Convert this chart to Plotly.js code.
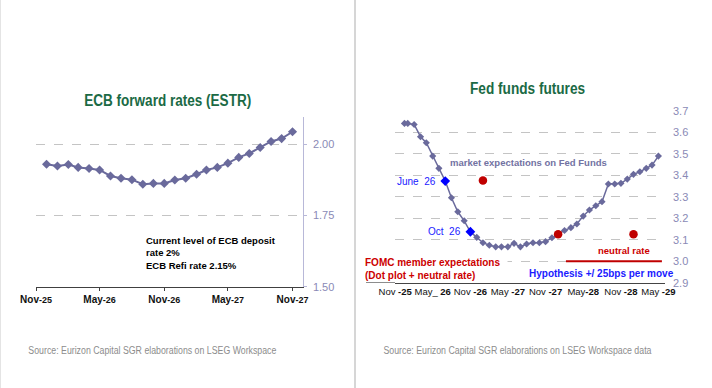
<!DOCTYPE html>
<html>
<head>
<meta charset="utf-8">
<script src="https://cdn.plot.ly/plotly-3.0.1.min.js"></script>
<style>
  html, body { margin: 0; padding: 0; background: #ffffff; }
  #chart { width: 712px; height: 388px; }
</style>
</head>
<body>
<div id="chart"></div>
<script>
// ---------- ECB forward rates (ESTR) ----------
const ecbDates = [
  '2025-12-01','2026-01-01','2026-02-01','2026-03-01','2026-04-01','2026-05-01',
  '2026-06-01','2026-07-01','2026-08-01','2026-09-01','2026-10-01','2026-11-01',
  '2026-12-01','2027-01-01','2027-02-01','2027-03-01','2027-04-01','2027-05-01',
  '2027-06-01','2027-07-01','2027-08-01','2027-09-01','2027-10-01','2027-11-01'
];
const ecbRates = [
  1.929, 1.923, 1.928, 1.918, 1.914, 1.909,
  1.888, 1.880, 1.875, 1.859, 1.862, 1.862,
  1.874, 1.880, 1.894, 1.909, 1.918, 1.933,
  1.953, 1.967, 1.988, 2.009, 2.019, 2.043
];
const ecbTickVals = ['2025-11-01','2026-05-01','2026-11-01','2027-05-01','2027-11-01'];
const ecbTickText = [
  '<b>Nov<span style="font-size:9px">-25</span></b>',
  '<b>May<span style="font-size:9px">-26</span></b>',
  '<b>Nov<span style="font-size:9px">-26</span></b>',
  '<b>May<span style="font-size:9px">-27</span></b>',
  '<b>Nov<span style="font-size:9px">-27</span></b>'
];
const ecbYTicks = [1.50, 1.75, 2.00];

// ---------- Fed funds futures ----------
const fedDates = [
  '2025-11-15','2025-12-01',
  '2026-01-01','2026-02-01','2026-03-01','2026-04-01','2026-05-01','2026-06-01',
  '2026-07-01','2026-08-01','2026-09-01','2026-10-01','2026-11-01','2026-12-01',
  '2027-01-01','2027-02-01','2027-03-01','2027-04-01','2027-05-01','2027-06-01',
  '2027-07-01','2027-08-01','2027-09-01','2027-10-01','2027-11-01','2027-12-01',
  '2028-01-01','2028-02-01','2028-03-01','2028-04-01','2028-05-01','2028-06-01',
  '2028-07-01','2028-08-01','2028-09-01','2028-10-01','2028-11-01','2028-12-01',
  '2029-01-01','2029-02-01','2029-03-01','2029-04-01'
];
const fedRates = [
  3.641, 3.641,
  3.636, 3.579, 3.551, 3.489, 3.432, 3.373,
  3.295, 3.230, 3.188, 3.137, 3.111, 3.086,
  3.074, 3.067, 3.067, 3.067, 3.083, 3.067,
  3.080, 3.086, 3.086, 3.091, 3.109, 3.126,
  3.143, 3.156, 3.173, 3.210, 3.238, 3.258,
  3.277, 3.359, 3.359, 3.362, 3.382, 3.404,
  3.416, 3.432, 3.447, 3.489
];
const highlightDates = ['2026-06-01', '2026-10-01'];
const highlightRates = highlightDates.map(d => fedRates[fedDates.indexOf(d)]);
const fomcDates = ['2026-12-01', '2027-12-01', '2028-12-01'];
const fomcRates = [3.375, 3.125, 3.125];
const neutralDates = ['2028-01-08', '2029-04-18'];
const neutralRates = [3.0, 3.0];
const fedTickVals = ['2025-10-01','2026-04-01','2026-10-01','2027-04-01','2027-10-01','2028-04-01','2028-10-01','2029-04-01'];
const fedTickText = [
  'Nov <b>-25</b>', 'May_ <b>26</b>', 'Nov <b>-26</b>', 'May <b>-27</b>',
  'Nov <b>-27</b>', 'May<b>-28</b>', 'Nov <b>-28</b>', 'May <b>-29</b>'
];

// ---------- helpers (pixel -> paper) ----------
const W = 712, H = 388;
const px = x => x / W;
const py = y => 1 - y / H;

const SERIES = '#6a6a9c';
const GREEN = '#1b6a45';
const SANS = 'Liberation Sans, Arial, sans-serif';

// texts that are drawn in a condensed face in the reference: text -> target width (px)
const condensedTexts = {
  'ECB forward rates (ESTR)': 167,
  'Fed funds futures': 115,
  'Source: Eurizon Capital SGR elaborations on LSEG Workspace': 248,
  'Source: Eurizon Capital SGR elaborations on LSEG Workspace data': 268
};

const traces = [
  {
    x: ecbDates, y: ecbRates, xaxis: 'x', yaxis: 'y',
    type: 'scatter', mode: 'lines+markers',
    line: { color: SERIES, width: 2 },
    marker: { symbol: 'diamond', size: 7, color: SERIES },
    hoverinfo: 'skip'
  },
  {
    x: fedDates, y: fedRates, xaxis: 'x2', yaxis: 'y2',
    type: 'scatter', mode: 'lines+markers',
    line: { color: SERIES, width: 1.5 },
    marker: { symbol: 'diamond', size: 5.5, color: SERIES },
    hoverinfo: 'skip'
  },
  {
    x: highlightDates, y: highlightRates, xaxis: 'x2', yaxis: 'y2',
    type: 'scatter', mode: 'markers',
    marker: { symbol: 'diamond', size: 7.5, color: '#0000ff' },
    hoverinfo: 'skip'
  },
  {
    x: neutralDates, y: neutralRates, xaxis: 'x2', yaxis: 'y2',
    type: 'scatter', mode: 'lines',
    line: { color: '#c00000', width: 2 },
    hoverinfo: 'skip'
  },
  {
    x: fomcDates, y: fomcRates, xaxis: 'x2', yaxis: 'y2',
    type: 'scatter', mode: 'markers',
    marker: { symbol: 'circle', size: 8.5, color: '#c00000' },
    hoverinfo: 'skip'
  }
];

const layout = {
  width: W, height: H,
  margin: { l: 0, r: 0, t: 0, b: 0 },
  paper_bgcolor: '#ffffff', plot_bgcolor: '#ffffff',
  showlegend: false,
  font: { family: SANS, color: '#000000', size: 10 },
  xaxis: {
    domain: [px(36), px(302.7)],
    type: 'date',
    range: ['2025-11-01', '2027-11-30'],
    tickvals: ecbTickVals, ticktext: ecbTickText, tickangle: 0,
    tickfont: { size: 10, color: '#111111' },
    showgrid: false, zeroline: false,
    showline: true, linecolor: '#404040', linewidth: 1,
    ticks: 'outside', ticklen: 3, tickcolor: '#404040',
    anchor: 'y', fixedrange: true
  },
  yaxis: {
    domain: [py(286.7), py(116.7)],
    range: [1.5, 2.0957],
    side: 'right',
    tickvals: ecbYTicks, tickformat: '.2f',
    tickfont: { size: 11, color: '#8a8ab6' },
    showgrid: true, gridcolor: '#c4c4c4', griddash: 'dash', gridwidth: 1,
    zeroline: false,
    showline: true, linecolor: '#b8b8d8', linewidth: 1,
    ticks: 'outside', ticklen: 3, tickcolor: '#b8b8d8',
    ticklabelstandoff: 4,
    anchor: 'x', fixedrange: true
  },
  xaxis2: {
    domain: [px(395), px(665)],
    type: 'date',
    range: ['2025-09-30', '2029-05-03'],
    tickvals: fedTickVals, ticktext: fedTickText, tickangle: 0,
    tickfont: { size: 9.5, color: '#111111' },
    showgrid: false, zeroline: false,
    showline: true, linecolor: '#444444', linewidth: 1,
    ticks: '',
    anchor: 'y2', fixedrange: true
  },
  yaxis2: {
    domain: [py(282.7), py(110.7)],
    range: [2.9, 3.7],
    side: 'right',
    dtick: 0.1, tick0: 2.9, tickformat: '.1f',
    tickfont: { size: 11, color: '#8a8ab6' },
    showgrid: true, gridcolor: '#c4c4c4', griddash: 'dash', gridwidth: 1,
    zeroline: false, showline: false,
    ticks: '', ticklabelstandoff: 7,
    anchor: 'x2', fixedrange: true
  },
  shapes: [
    { type: 'line', xref: 'paper', yref: 'paper', x0: px(355), x1: px(355), y0: 0, y1: 1,
      line: { color: '#c8c8c8', width: 1.5 } },
    { type: 'line', xref: 'paper', yref: 'paper', x0: px(0.5), x1: px(0.5), y0: 0, y1: 1,
      line: { color: '#e4e4e4', width: 1 } },
    { type: 'line', xref: 'paper', yref: 'y2', x0: px(366), x1: px(395), y0: 2.9, y1: 2.9,
      line: { color: '#444444', width: 1 } }
  ],
  annotations: [
    // titles
    { text: 'ECB forward rates (ESTR)', xref: 'paper', yref: 'paper',
      x: px(167), y: py(100.5), xanchor: 'center', yanchor: 'middle', showarrow: false,
      font: { family: SANS, size: 16, weight: 'bold', color: GREEN } },
    { text: 'Fed funds futures', xref: 'paper', yref: 'paper',
      x: px(527), y: py(89), xanchor: 'center', yanchor: 'middle', showarrow: false,
      font: { family: SANS, size: 16, weight: 'bold', color: GREEN } },
    // left note
    { text: '<b>Current level of ECB deposit<br>rate 2%<br>ECB Refi rate 2.15%</b>',
      xref: 'paper', yref: 'paper', x: px(144), y: py(253), xanchor: 'left', yanchor: 'middle',
      align: 'left', showarrow: false, font: { size: 9.5, color: '#000000' } },
    // sources
    { text: 'Source: Eurizon Capital SGR elaborations on LSEG Workspace',
      xref: 'paper', yref: 'paper', x: px(152), y: py(350), xanchor: 'center', yanchor: 'middle',
      showarrow: false, font: { family: SANS, size: 10, color: '#8c8c8c' } },
    { text: 'Source: Eurizon Capital SGR elaborations on LSEG Workspace data',
      xref: 'paper', yref: 'paper', x: px(517), y: py(350), xanchor: 'center', yanchor: 'middle',
      showarrow: false, font: { family: SANS, size: 10, color: '#8c8c8c' } },
    // right chart labels
    { text: '<b>market expectations on Fed Funds</b>', xref: 'paper', yref: 'paper',
      x: px(448), y: py(162.7), xanchor: 'left', yanchor: 'middle', showarrow: false,
      font: { size: 9.5, color: '#7272a2' } },
    { text: 'June  26', xref: 'paper', yref: 'paper',
      x: px(395), y: py(181), xanchor: 'left', yanchor: 'middle', showarrow: false,
      font: { size: 10, color: '#1a1aff' } },
    { text: 'Oct  26', xref: 'paper', yref: 'paper',
      x: px(426), y: py(231.7), xanchor: 'left', yanchor: 'middle', showarrow: false,
      font: { size: 10, color: '#1a1aff' } },
    { text: '<b>neutral rate</b>', xref: 'paper', yref: 'paper',
      x: px(596), y: py(250.7), xanchor: 'left', yanchor: 'middle', showarrow: false,
      font: { size: 9.5, color: '#cc0000' } },
    { text: '<b>FOMC member expectations<br>(Dot plot + neutral rate)</b>', xref: 'paper', yref: 'paper',
      x: px(364), y: py(269), xanchor: 'left', yanchor: 'middle', align: 'left', showarrow: false,
      bgcolor: '#ffffff', width: 142, borderpad: 0,
      font: { size: 10, color: '#cc0000' } },
    { text: '<b>Hypothesis +/ 25bps per move</b>', xref: 'paper', yref: 'paper',
      x: px(527), y: py(273.3), xanchor: 'left', yanchor: 'middle', showarrow: false,
      font: { size: 10, color: '#1a1aff' } }
  ]
};

Plotly.newPlot('chart', traces, layout, { displayModeBar: false, staticPlot: true }).then(gd => {
  // emulate the condensed typeface of the reference for titles and source lines
  gd.querySelectorAll('text.annotation-text').forEach(t => {
    const target = condensedTexts[t.textContent];
    if (target) {
      t.setAttribute('textLength', target);
      t.setAttribute('lengthAdjust', 'spacingAndGlyphs');
    }
  });
});
</script>
</body>
</html>
